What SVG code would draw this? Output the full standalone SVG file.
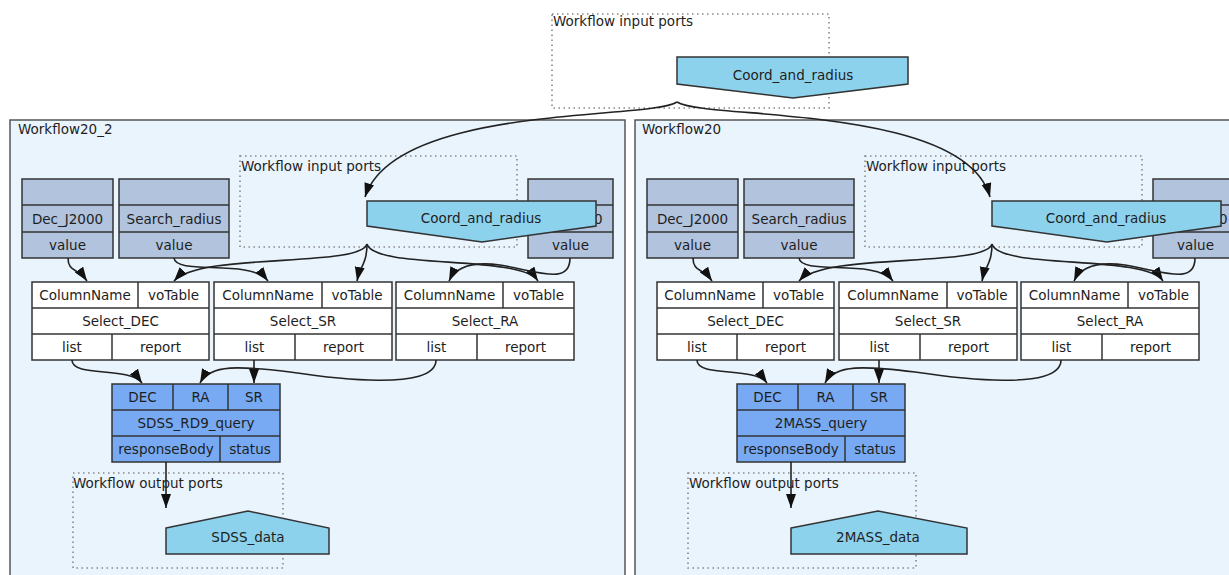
<svg xmlns="http://www.w3.org/2000/svg" width="1229" height="575" viewBox="0 0 1229 575">
<defs>
<style>
.t{font-family:"DejaVu Sans",sans-serif;font-size:13.5px;fill:#1e1e1e;text-anchor:middle;dominant-baseline:central}
.l{font-family:"DejaVu Sans",sans-serif;font-size:13.5px;fill:#1e1e1e;text-anchor:start;dominant-baseline:central}
.wf{fill:#eaf4fd;stroke:#555;stroke-width:1.5}
.dot{fill:none;stroke:#888;stroke-width:1.6;stroke-dasharray:1.5 3.5}
.val{fill:#b1c3dd;stroke:#333;stroke-width:1.5}
.sel{fill:#fff;stroke:#333;stroke-width:1.5}
.qry{fill:#77aaf2;stroke:#333;stroke-width:1.5}
.port{fill:#8dd2ec;stroke:#333;stroke-width:1.5}
.div{stroke:#333;stroke-width:1.5}
.c{fill:none;stroke:#222;stroke-width:1.6}
</style>
<marker id="ah" markerUnits="userSpaceOnUse" markerWidth="15" markerHeight="11" refX="14" refY="5" orient="auto">
<path d="M0,0 L14,5 L0,10 z" fill="#111"/>
</marker>
</defs>

<g id="top-inputs">
<rect class="dot" x="552" y="14" width="277" height="94"/>
<text class="l" x="553" y="21">Workflow input ports</text>
</g>

<g id="Workflow20_2">
<rect class="wf" x="10" y="120" width="615" height="470"/>
<text class="l" x="18" y="129">Workflow20_2</text>
</g>
<g id="Workflow20">
<rect class="wf" x="635" y="120" width="610" height="470"/>
<text class="l" x="642" y="129">Workflow20</text>
</g>

<g id="L-inputs">
<rect class="dot" x="240" y="156" width="277" height="91"/>
<text class="l" x="241" y="166">Workflow input ports</text>
</g>
<g id="L-outputs">
<rect class="dot" x="73" y="473" width="210" height="95"/>
<text class="l" x="73" y="483">Workflow output ports</text>
</g>
<g id="R-inputs">
<rect class="dot" x="865" y="156" width="277" height="91"/>
<text class="l" x="866" y="166">Workflow input ports</text>
</g>
<g id="R-outputs">
<rect class="dot" x="688" y="473" width="228" height="95"/>
<text class="l" x="689" y="483">Workflow output ports</text>
</g>

<g id="L-Dec_J2000">
<rect class="val" x="22" y="179" width="91" height="79"/>
<line class="div" x1="22" y1="205" x2="113" y2="205"/><line class="div" x1="22" y1="232" x2="113" y2="232"/>
<text class="t" x="67.5" y="218.5">Dec_J2000</text><text class="t" x="67.5" y="245">value</text>
</g>
<g id="L-Search_radius">
<rect class="val" x="119" y="179" width="110" height="79"/>
<line class="div" x1="119" y1="205" x2="229" y2="205"/><line class="div" x1="119" y1="232" x2="229" y2="232"/>
<text class="t" x="174" y="218.5">Search_radius</text><text class="t" x="174" y="245">value</text>
</g>
<g id="L-RA_J2000">
<rect class="val" x="528" y="179" width="85" height="79"/>
<line class="div" x1="528" y1="205" x2="613" y2="205"/><line class="div" x1="528" y1="232" x2="613" y2="232"/>
<text class="l" x="594" y="218.5">0</text><text class="t" x="570.5" y="245">value</text>
</g>
<g id="L-Coord_and_radius">
<polygon class="port" points="367,201 596,201 596,226 482,242 367,226"/>
<text class="t" x="481" y="218">Coord_and_radius</text>
</g>

<g id="L-Select_DEC">
<rect class="sel" x="32" y="282" width="177" height="78"/>
<line class="div" x1="32" y1="308" x2="209" y2="308"/><line class="div" x1="32" y1="334" x2="209" y2="334"/>
<line class="div" x1="138" y1="282" x2="138" y2="308"/><line class="div" x1="112" y1="334" x2="112" y2="360"/>
<text class="t" x="85" y="295">ColumnName</text><text class="t" x="173.5" y="295">voTable</text>
<text class="t" x="120.5" y="321">Select_DEC</text>
<text class="t" x="72" y="347">list</text><text class="t" x="160.5" y="347">report</text>
</g>
<g id="L-Select_SR">
<rect class="sel" x="214" y="282" width="178" height="78"/>
<line class="div" x1="214" y1="308" x2="392" y2="308"/><line class="div" x1="214" y1="334" x2="392" y2="334"/>
<line class="div" x1="322" y1="282" x2="322" y2="308"/><line class="div" x1="295" y1="334" x2="295" y2="360"/>
<text class="t" x="268" y="295">ColumnName</text><text class="t" x="357" y="295">voTable</text>
<text class="t" x="303" y="321">Select_SR</text>
<text class="t" x="254.5" y="347">list</text><text class="t" x="343.5" y="347">report</text>
</g>
<g id="L-Select_RA">
<rect class="sel" x="396" y="282" width="178" height="78"/>
<line class="div" x1="396" y1="308" x2="574" y2="308"/><line class="div" x1="396" y1="334" x2="574" y2="334"/>
<line class="div" x1="503" y1="282" x2="503" y2="308"/><line class="div" x1="477" y1="334" x2="477" y2="360"/>
<text class="t" x="449.5" y="295">ColumnName</text><text class="t" x="538.5" y="295">voTable</text>
<text class="t" x="485" y="321">Select_RA</text>
<text class="t" x="436.5" y="347">list</text><text class="t" x="525.5" y="347">report</text>
</g>
<g id="L-SDSS_RD9_query">
<rect class="qry" x="112" y="384" width="168" height="78"/>
<line class="div" x1="112" y1="410" x2="280" y2="410"/><line class="div" x1="112" y1="436" x2="280" y2="436"/>
<line class="div" x1="173" y1="384" x2="173" y2="410"/><line class="div" x1="228" y1="384" x2="228" y2="410"/>
<line class="div" x1="220" y1="436" x2="220" y2="462"/>
<text class="t" x="142.5" y="397">DEC</text><text class="t" x="200.5" y="397">RA</text><text class="t" x="254" y="397">SR</text>
<text class="t" x="196" y="423">SDSS_RD9_query</text>
<text class="t" x="166" y="449">responseBody</text><text class="t" x="250" y="449">status</text>
</g>
<g id="L-SDSS_data">
<polygon class="port" points="166,528 248,511 329,528 329,554 166,554"/>
<text class="t" x="248" y="537">SDSS_data</text>
</g>

<g id="R-Dec_J2000" transform="translate(625,0)">
<rect class="val" x="22" y="179" width="91" height="79"/>
<line class="div" x1="22" y1="205" x2="113" y2="205"/><line class="div" x1="22" y1="232" x2="113" y2="232"/>
<text class="t" x="67.5" y="218.5">Dec_J2000</text><text class="t" x="67.5" y="245">value</text>
</g>
<g id="R-Search_radius" transform="translate(625,0)">
<rect class="val" x="119" y="179" width="110" height="79"/>
<line class="div" x1="119" y1="205" x2="229" y2="205"/><line class="div" x1="119" y1="232" x2="229" y2="232"/>
<text class="t" x="174" y="218.5">Search_radius</text><text class="t" x="174" y="245">value</text>
</g>
<g id="R-RA_J2000" transform="translate(625,0)">
<rect class="val" x="528" y="179" width="85" height="79"/>
<line class="div" x1="528" y1="205" x2="613" y2="205"/><line class="div" x1="528" y1="232" x2="613" y2="232"/>
<text class="l" x="594" y="218.5">0</text><text class="t" x="570.5" y="245">value</text>
</g>
<g id="R-Coord_and_radius" transform="translate(625,0)">
<polygon class="port" points="367,201 596,201 596,226 482,242 367,226"/>
<text class="t" x="481" y="218">Coord_and_radius</text>
</g>
<g id="R-Select_DEC" transform="translate(625,0)">
<rect class="sel" x="32" y="282" width="177" height="78"/>
<line class="div" x1="32" y1="308" x2="209" y2="308"/><line class="div" x1="32" y1="334" x2="209" y2="334"/>
<line class="div" x1="138" y1="282" x2="138" y2="308"/><line class="div" x1="112" y1="334" x2="112" y2="360"/>
<text class="t" x="85" y="295">ColumnName</text><text class="t" x="173.5" y="295">voTable</text>
<text class="t" x="120.5" y="321">Select_DEC</text>
<text class="t" x="72" y="347">list</text><text class="t" x="160.5" y="347">report</text>
</g>
<g id="R-Select_SR" transform="translate(625,0)">
<rect class="sel" x="214" y="282" width="178" height="78"/>
<line class="div" x1="214" y1="308" x2="392" y2="308"/><line class="div" x1="214" y1="334" x2="392" y2="334"/>
<line class="div" x1="322" y1="282" x2="322" y2="308"/><line class="div" x1="295" y1="334" x2="295" y2="360"/>
<text class="t" x="268" y="295">ColumnName</text><text class="t" x="357" y="295">voTable</text>
<text class="t" x="303" y="321">Select_SR</text>
<text class="t" x="254.5" y="347">list</text><text class="t" x="343.5" y="347">report</text>
</g>
<g id="R-Select_RA" transform="translate(625,0)">
<rect class="sel" x="396" y="282" width="178" height="78"/>
<line class="div" x1="396" y1="308" x2="574" y2="308"/><line class="div" x1="396" y1="334" x2="574" y2="334"/>
<line class="div" x1="503" y1="282" x2="503" y2="308"/><line class="div" x1="477" y1="334" x2="477" y2="360"/>
<text class="t" x="449.5" y="295">ColumnName</text><text class="t" x="538.5" y="295">voTable</text>
<text class="t" x="485" y="321">Select_RA</text>
<text class="t" x="436.5" y="347">list</text><text class="t" x="525.5" y="347">report</text>
</g>
<g id="R-2MASS_query" transform="translate(625,0)">
<rect class="qry" x="112" y="384" width="168" height="78"/>
<line class="div" x1="112" y1="410" x2="280" y2="410"/><line class="div" x1="112" y1="436" x2="280" y2="436"/>
<line class="div" x1="173" y1="384" x2="173" y2="410"/><line class="div" x1="228" y1="384" x2="228" y2="410"/>
<line class="div" x1="220" y1="436" x2="220" y2="462"/>
<text class="t" x="142.5" y="397">DEC</text><text class="t" x="200.5" y="397">RA</text><text class="t" x="254" y="397">SR</text>
<text class="t" x="196" y="423">2MASS_query</text>
<text class="t" x="166" y="449">responseBody</text><text class="t" x="250" y="449">status</text>
</g>
<g id="R-2MASS_data">
<polygon class="port" points="791,528 878,511 967,528 967,554 791,554"/>
<text class="t" x="878" y="537">2MASS_data</text>
</g>

<g id="Top-Coord_and_radius">
<polygon class="port" points="677,57 908,57 908,84 793,98 677,84"/>
<text class="t" x="793" y="75">Coord_and_radius</text>
</g>

<g id="connectors">
<path class="c" marker-end="url(#ah)" d="M677,102 C650,120 395,104 365,197"/>
<path class="c" marker-end="url(#ah)" d="M677,102 C705,120 965,104 990,197"/>
<g id="L-conn">
<path class="c" marker-end="url(#ah)" d="M68,258 C68,272 78,268 87,281"/>
<path class="c" marker-end="url(#ah)" d="M174,258 C176,276 250,258 268,281"/>
<path class="c" marker-end="url(#ah)" d="M367,244 C360,268 200,252 174,281"/>
<path class="c" marker-end="url(#ah)" d="M367,244 C367,264 360,266 357,281"/>
<path class="c" marker-end="url(#ah)" d="M367,244 C375,270 520,254 538,281"/>
<path class="c" marker-end="url(#ah)" d="M570,258 C570,285 540,272 500,265 C470,261 455,268 449,281"/>
<path class="c" marker-end="url(#ah)" d="M72,360 C72,378 130,366 142,383"/>
<path class="c" marker-end="url(#ah)" d="M254,360 L254,383"/>
<path class="c" marker-end="url(#ah)" d="M436,360 C436,392 330,378 290,372 C240,366 210,364 200,383"/>
<path class="c" marker-end="url(#ah)" d="M166,462 L166,508"/>
</g>
<g id="R-conn" transform="translate(625,0)">
<path class="c" marker-end="url(#ah)" d="M68,258 C68,272 78,268 87,281"/>
<path class="c" marker-end="url(#ah)" d="M174,258 C176,276 250,258 268,281"/>
<path class="c" marker-end="url(#ah)" d="M367,244 C360,268 200,252 174,281"/>
<path class="c" marker-end="url(#ah)" d="M367,244 C367,264 360,266 357,281"/>
<path class="c" marker-end="url(#ah)" d="M367,244 C375,270 520,254 538,281"/>
<path class="c" marker-end="url(#ah)" d="M570,258 C570,285 540,272 500,265 C470,261 455,268 449,281"/>
<path class="c" marker-end="url(#ah)" d="M72,360 C72,378 130,366 142,383"/>
<path class="c" marker-end="url(#ah)" d="M254,360 L254,383"/>
<path class="c" marker-end="url(#ah)" d="M436,360 C436,392 330,378 290,372 C240,366 210,364 200,383"/>
<path class="c" marker-end="url(#ah)" d="M166,462 L166,508"/>
</g>
</g>
</svg>
